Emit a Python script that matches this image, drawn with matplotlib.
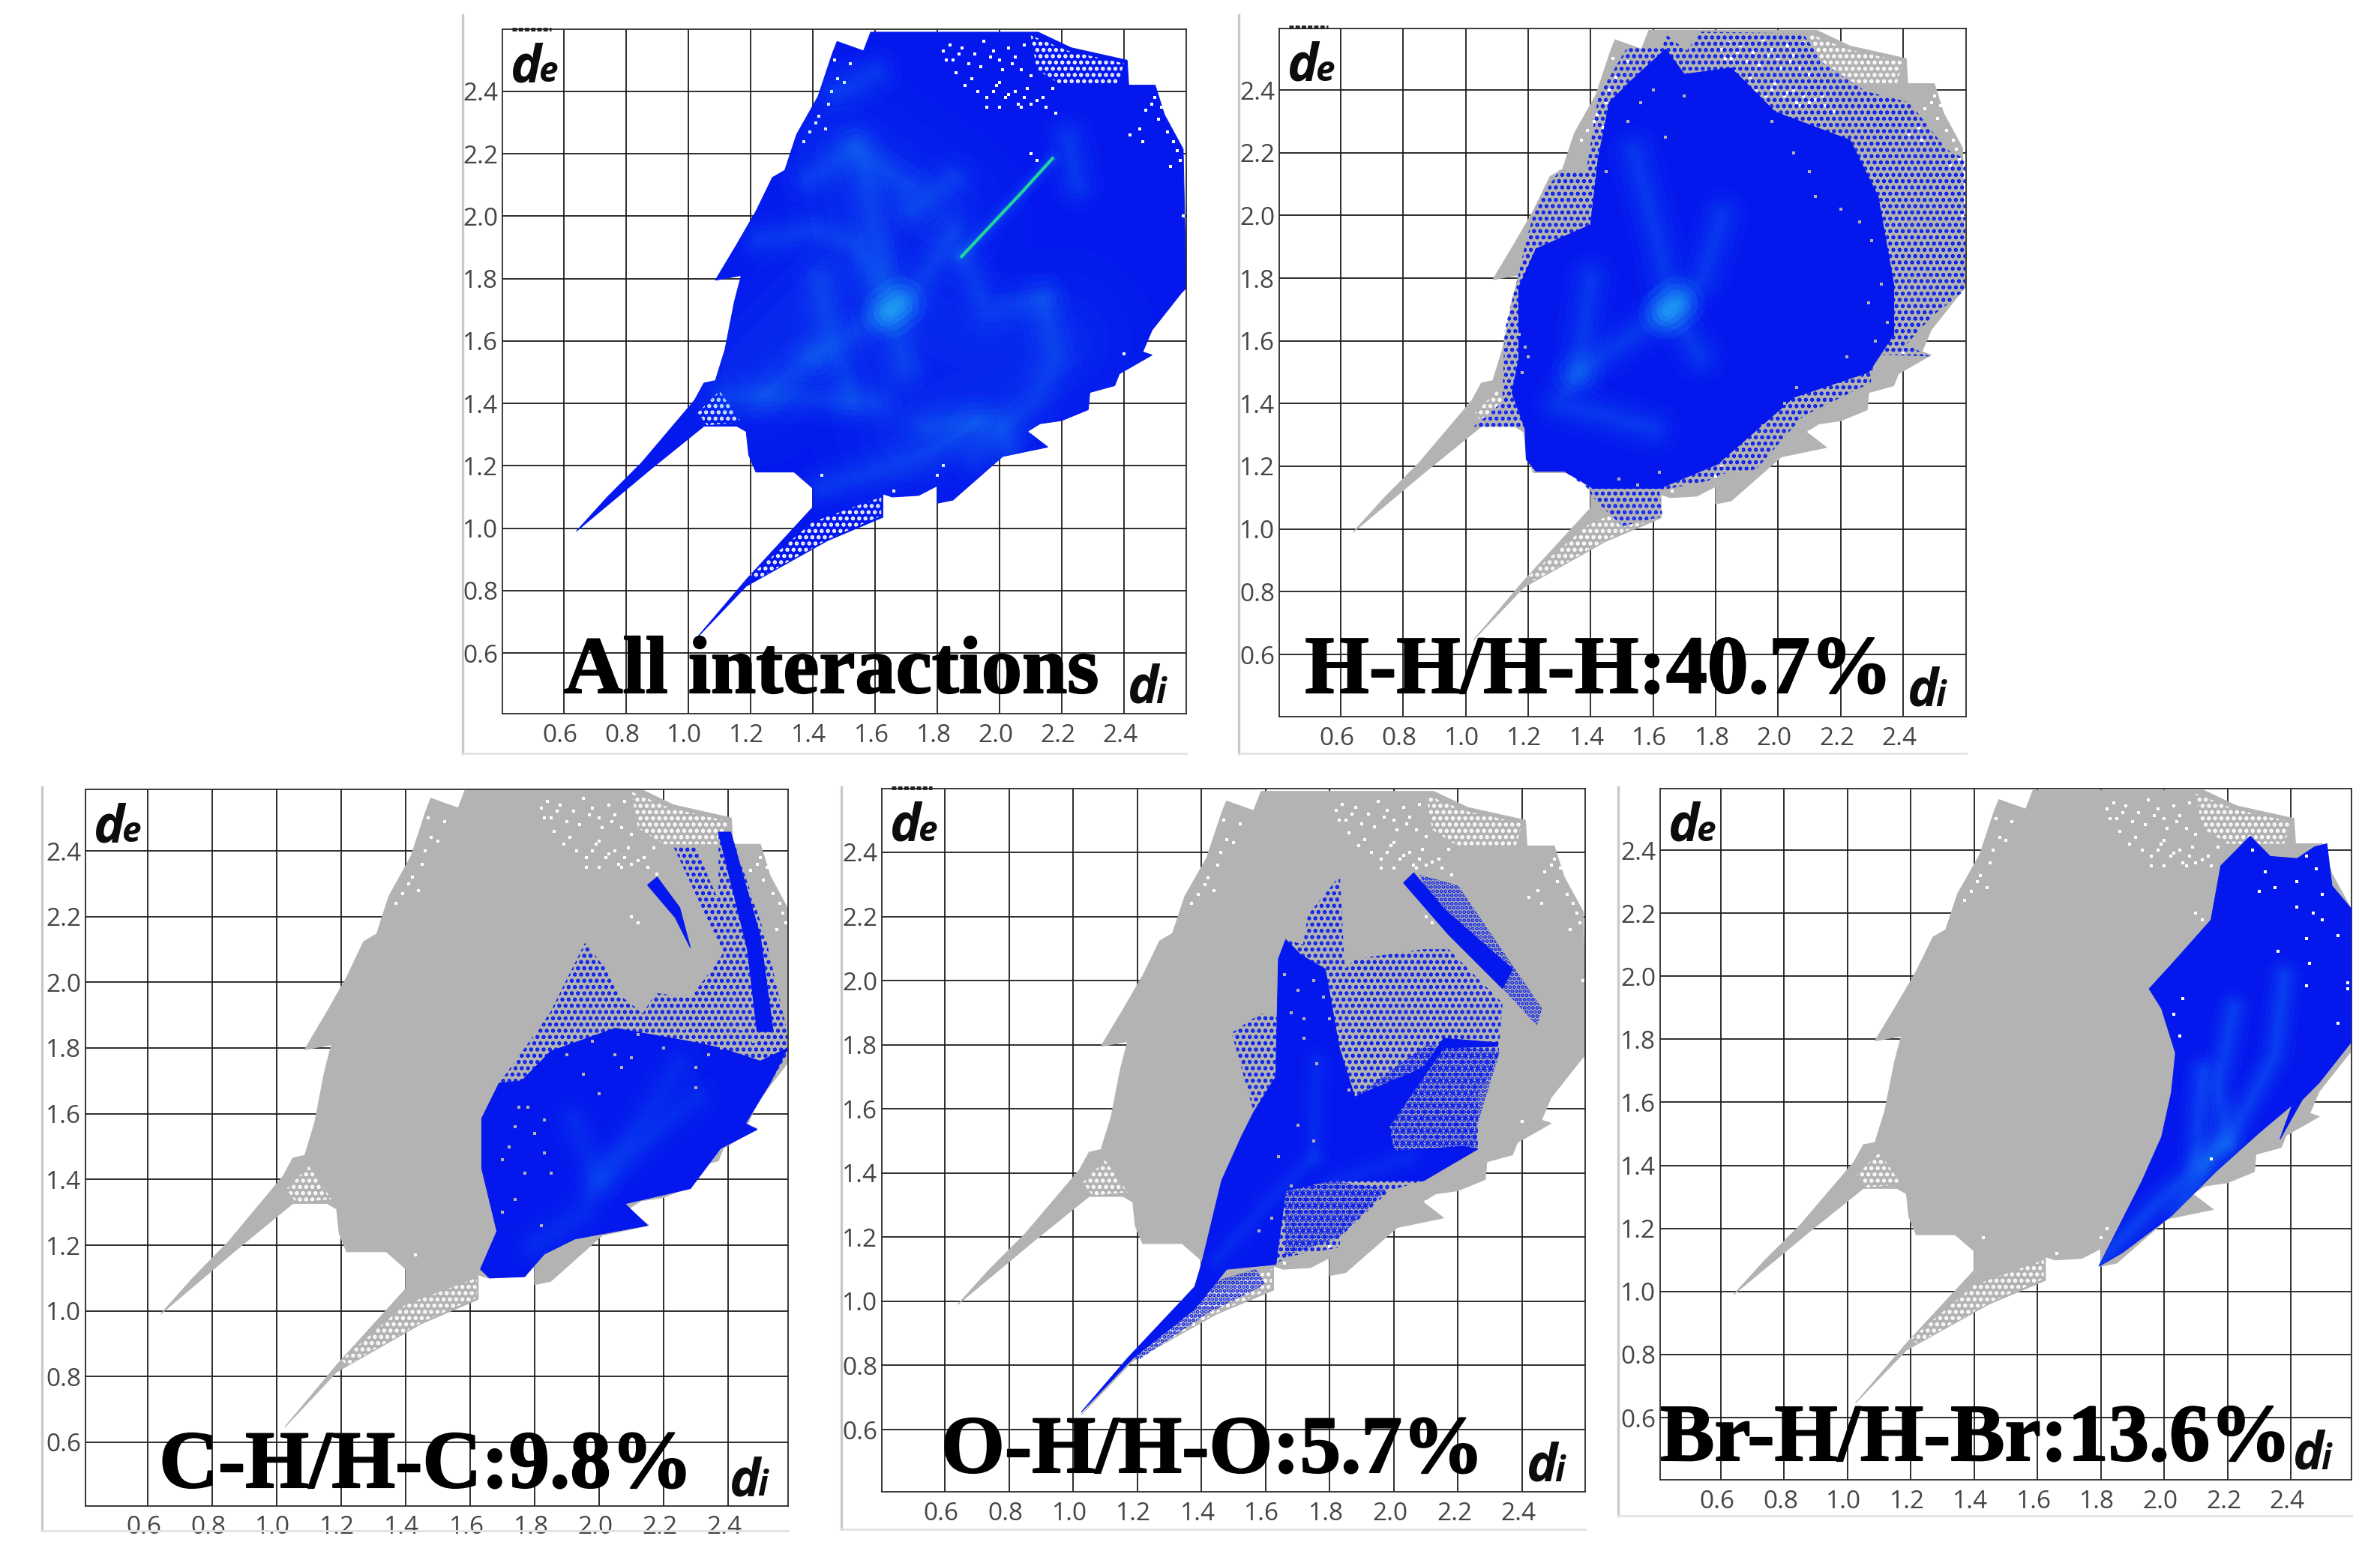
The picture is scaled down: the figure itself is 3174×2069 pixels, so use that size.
import matplotlib
matplotlib.use('Agg')
import matplotlib.pyplot as plt
import matplotlib.patheffects as pe
from matplotlib.patches import Polygon
from matplotlib.lines import Line2D
from matplotlib.transforms import ScaledTranslation

W, H = 3174, 2069
plt.rcParams['hatch.linewidth'] = 2.6

ticks = [0.6, 0.8, 1.0, 1.2, 1.4, 1.6, 1.8, 2.0, 2.2, 2.4]

# whole fingerprint outline, (di, de)
shape_all = [(0.64, 0.99), (0.74, 1.10), (0.85, 1.21), (1.02, 1.41), (1.05, 1.465), (1.087, 1.473), (1.118, 1.573),
             (1.148, 1.726), (1.17, 1.81), (1.087, 1.795), (1.156, 1.91), (1.218, 2.017), (1.27, 2.124), (1.31, 2.147),
             (1.348, 2.262), (1.417, 2.384), (1.463, 2.522), (1.478, 2.56), (1.563, 2.53), (1.586, 2.59),
             (2.124, 2.59), (2.23, 2.54), (2.41, 2.5), (2.415, 2.42), (2.50, 2.42), (2.53, 2.325), (2.59, 2.215),
             (2.60, 1.77), (2.585, 1.755), (2.49, 1.635), (2.46, 1.565), (2.49, 1.555), (2.385, 1.495),
             (2.37, 1.457), (2.29, 1.435), (2.285, 1.38), (2.2, 1.345), (2.13, 1.335), (2.09, 1.31),
             (2.155, 1.26), (2.01, 1.23), (1.85, 1.09), (1.80, 1.08), (1.80, 1.136), (1.74, 1.105),
             (1.655, 1.10), (1.625, 1.11), (1.625, 1.035), (1.447, 0.96), (1.186, 0.814), (1.025, 0.646),
             (1.186, 0.835), (1.40, 1.067), (1.40, 1.128), (1.34, 1.18), (1.217, 1.18), (1.194, 1.235),
             (1.186, 1.31), (1.156, 1.327), (1.05, 1.327), (0.88, 1.19), (0.76, 1.09)]

# speckled bits of the outline
spike_up = [(1.03, 1.37), (1.10, 1.44), (1.17, 1.34), (1.06, 1.33)]
spike_low = [(1.40, 1.02), (1.62, 1.10), (1.62, 1.04), (1.45, 0.965), (1.22, 0.835), (1.20, 0.85)]
top_patch = [(2.10, 2.58), (2.22, 2.53), (2.40, 2.49), (2.38, 2.42), (2.20, 2.42), (2.12, 2.47)]

holes_di = [1.82, 1.85, 1.88, 1.92, 1.95, 1.98, 2.0, 2.03, 2.05, 2.08, 1.86, 1.91, 1.98, 2.02, 2.06, 2.0, 1.96,
            2.09, 2.12, 2.15, 2.18, 2.50, 2.52, 2.47, 2.45, 2.42, 2.54, 2.58, 2.55, 2.10, 2.12, 1.50, 1.47,
            1.45, 1.42, 1.37, 2.59, 2.40, 1.43, 1.66, 1.80, 1.82, 2.10,
            1.84, 1.87, 1.90, 1.94, 1.97, 2.01, 2.04, 2.07, 2.10, 1.89, 1.93, 2.0, 2.05, 2.08, 1.83, 1.96, 1.99,
            2.03, 2.07, 2.14, 2.17, 2.10, 1.48, 1.46, 1.52, 1.44, 2.56, 2.49, 2.51, 2.46, 2.57, 1.39, 1.41]
holes_de = [2.53, 2.50, 2.54, 2.52, 2.56, 2.53, 2.50, 2.54, 2.51, 2.55, 2.46, 2.44, 2.40, 2.38, 2.36, 2.35, 2.35,
            2.41, 2.37, 2.35, 2.33, 2.38, 2.35, 2.34, 2.28, 2.26, 2.27, 2.18, 2.16, 2.20, 2.18, 2.43, 2.50,
            2.36, 2.32, 2.24, 2.00, 1.56, 1.17, 1.12, 1.17, 1.20, 1.31,
            2.55, 2.52, 2.49, 2.48, 2.51, 2.47, 2.49, 2.47, 2.45, 2.42, 2.40, 2.43, 2.40, 2.38, 2.50, 2.38, 2.42,
            2.39, 2.35, 2.38, 2.41, 2.36, 2.44, 2.40, 2.49, 2.28, 2.24, 2.36, 2.31, 2.24, 2.21, 2.27, 2.30]

# H-H
hh_speck = [(1.018, 1.32), (1.117, 1.405), (1.125, 1.634), (1.17, 1.816), (1.194, 1.923), (1.225, 2.03),
            (1.30, 2.144), (1.385, 2.137), (1.424, 2.38), (1.515, 2.533), (1.63, 2.533), (1.64, 2.578),
            (1.707, 2.525), (1.753, 2.586), (2.08, 2.58), (2.143, 2.487), (2.28, 2.396), (2.42, 2.36),
            (2.54, 2.21), (2.60, 2.18), (2.60, 1.763), (2.495, 1.68), (2.41, 1.588), (2.487, 1.55),
            (2.31, 1.557), (2.296, 1.466), (2.08, 1.36), (1.93, 1.19), (1.82, 1.176), (1.775, 1.153),
            (1.62, 1.123), (1.63, 1.04), (1.50, 1.008), (1.408, 1.10), (1.39, 1.13), (1.316, 1.184),
            (1.225, 1.184), (1.194, 1.222), (1.19, 1.32)]
hh_solid = [(1.148, 1.435), (1.17, 1.54), (1.17, 1.77), (1.225, 1.893), (1.40, 1.97), (1.424, 2.18),
            (1.46, 2.36), (1.53, 2.43), (1.64, 2.53), (1.70, 2.45), (1.85, 2.47), (1.99, 2.33), (2.23, 2.24),
            (2.32, 2.06), (2.37, 1.78), (2.37, 1.62), (2.29, 1.50), (2.05, 1.42), (1.913, 1.30), (1.806, 1.207),
            (1.622, 1.13), (1.408, 1.13), (1.316, 1.184), (1.225, 1.184), (1.194, 1.222), (1.19, 1.32)]
hh_specks_di = [1.17, 1.19, 1.18, 1.20, 1.52, 1.56, 1.60, 1.64, 1.70, 1.98, 2.05, 2.10, 2.12, 2.20, 2.26, 2.30,
                2.33, 2.29, 2.35, 2.31, 2.06, 2.02, 1.95, 1.90, 1.88, 1.55, 1.49, 1.45, 1.62, 2.22]
hh_specks_de = [1.62, 1.58, 1.50, 1.55, 2.30, 2.36, 2.40, 2.25, 2.38, 2.30, 2.20, 2.14, 2.06, 2.02, 1.98, 1.92,
                1.78, 1.72, 1.66, 1.60, 1.45, 1.40, 1.33, 1.28, 1.25, 1.14, 1.16, 2.14, 1.18, 1.55]

# C-H
ch_speck = [(1.632, 1.127), (1.683, 1.242), (1.636, 1.433), (1.636, 1.586), (1.69, 1.693), (1.769, 1.80),
            (1.847, 1.906), (1.956, 2.12), (2.03, 2.03), (2.065, 1.96), (2.136, 1.906), (2.175, 1.968),
            (2.283, 1.952), (2.376, 2.075), (2.384, 2.09), (2.228, 2.418), (2.30, 2.41), (2.37, 2.25),
            (2.37, 2.457), (2.408, 2.457), (2.517, 2.136), (2.548, 1.998), (2.585, 1.845), (2.585, 1.784),
            (2.53, 1.693), (2.454, 1.57), (2.49, 1.552), (2.376, 1.494), (2.283, 1.372), (2.08, 1.326),
            (2.15, 1.26), (1.925, 1.219), (1.83, 1.173), (1.769, 1.104), (1.66, 1.10)]
ch_solid = [(1.632, 1.127), (1.683, 1.242), (1.636, 1.433), (1.636, 1.586), (1.69, 1.693), (1.76, 1.70),
            (1.85, 1.79), (2.05, 1.86), (2.28, 1.82), (2.376, 1.80), (2.50, 1.76), (2.585, 1.80), (2.53, 1.693),
            (2.454, 1.57), (2.49, 1.552), (2.376, 1.494), (2.283, 1.372), (2.08, 1.326), (2.15, 1.26),
            (1.925, 1.219), (1.83, 1.173), (1.769, 1.104), (1.66, 1.10)]
ch_streak1 = [(2.37, 2.457), (2.408, 2.457), (2.50, 2.14), (2.54, 1.85), (2.49, 1.85), (2.46, 2.10)]
ch_streak2 = [(2.15, 2.296), (2.18, 2.32), (2.25, 2.227), (2.283, 2.105), (2.236, 2.197)]
ch_specks_di = [1.70, 1.72, 1.74, 1.75, 1.80, 1.83, 1.85, 1.83, 2.05, 2.07, 2.10, 2.30, 2.34, 1.95, 2.00, 2.30,
                1.78, 1.77, 1.70, 1.74, 1.82, 1.90, 1.98, 2.12, 2.20, 2.26, 2.40, 2.44, 2.38, 2.48]
ch_specks_de = [1.46, 1.50, 1.56, 1.62, 1.54, 1.48, 1.42, 1.58, 1.78, 1.74, 1.77, 1.74, 1.78, 1.72, 1.66, 1.68,
                1.62, 1.42, 1.30, 1.34, 1.26, 1.78, 1.82, 1.84, 1.80, 1.86, 1.88, 1.86, 1.80, 1.82]

# O-H
oh_speck = [(1.494, 1.837), (1.586, 1.898), (1.64, 1.89), (1.64, 2.067), (1.663, 2.128), (1.717, 2.113),
            (1.732, 2.205), (1.832, 2.328), (1.847, 2.036), (1.878, 2.067), (2.093, 2.098), (2.17, 2.098),
            (2.339, 1.93), (2.324, 1.744), (2.262, 1.652), (2.262, 1.545), (2.262, 1.475), (2.093, 1.376),
            (1.986, 1.345), (1.832, 1.2), (1.832, 1.168), (1.663, 1.138), (1.632, 1.115), (1.479, 1.10),
            (1.563, 1.59)]
oh_dense = [(1.878, 1.637), (2.10, 1.80), (2.33, 1.78), (2.26, 1.55), (2.26, 1.475), (2.0, 1.42), (1.90, 1.55)]
oh_dense2 = [(1.66, 1.345), (1.80, 1.376), (1.98, 1.35), (1.83, 1.20), (1.66, 1.14)]
oh_solid = [(1.025, 0.654), (1.17, 0.823), (1.379, 1.045), (1.40, 1.115), (1.463, 1.376), (1.525, 1.514),
            (1.563, 1.59), (1.632, 1.70), (1.64, 2.067), (1.663, 2.128), (1.71, 2.08), (1.786, 2.036),
            (1.83, 1.79), (1.878, 1.637), (2.093, 1.729), (2.155, 1.82), (2.324, 1.806), (2.324, 1.795),
            (2.155, 1.79), (1.985, 1.545), (2.0, 1.468), (2.216, 1.483), (2.262, 1.475), (2.093, 1.376),
            (1.80, 1.376), (1.663, 1.345), (1.632, 1.115), (1.479, 1.10), (1.379, 0.976), (1.187, 0.823)]
oh_spike = [(1.379, 1.045), (1.57, 1.10), (1.60, 1.053), (1.417, 0.961), (1.202, 0.815), (1.187, 0.83)]
oh_streak = [(2.03, 2.305), (2.062, 2.336), (2.16, 2.22), (2.37, 2.036), (2.339, 1.975), (2.17, 2.144)]
oh_streak_speck = [(2.08, 2.33), (2.2, 2.297), (2.462, 1.913), (2.446, 1.86), (2.339, 1.975), (2.17, 2.144)]
oh_specks_di = [1.66, 1.70, 1.68, 1.72, 1.75, 1.78, 1.80, 1.72, 1.76, 1.83, 1.86, 1.70, 1.64, 1.68, 1.75, 1.62, 1.58]
oh_specks_de = [2.02, 1.97, 1.90, 1.88, 2.00, 1.95, 1.88, 1.82, 1.74, 1.85, 1.66, 1.55, 1.45, 1.36, 1.50, 1.26, 1.22]

# Br-H
br_solid = [(1.794, 1.08), (1.93, 1.35), (1.992, 1.49), (2.023, 1.631), (2.036, 1.756), (1.992, 1.897),
            (1.953, 1.96), (2.023, 2.037), (2.148, 2.178), (2.179, 2.35), (2.272, 2.444), (2.335, 2.38),
            (2.42, 2.373), (2.475, 2.41), (2.514, 2.42), (2.53, 2.287), (2.594, 2.21), (2.594, 1.795),
            (2.49, 1.6625), (2.436, 1.608), (2.366, 1.483), (2.405, 1.592), (2.303, 1.506), (2.163, 1.38),
            (2.023, 1.24), (1.868, 1.123)]
br_holes_di = [2.28, 2.32, 2.35, 2.30, 2.42, 2.45, 2.48, 2.50, 2.47, 2.45, 2.55, 2.58, 2.45, 2.36, 2.06, 2.03,
               2.05, 2.19, 2.55, 2.58, 2.46, 2.42, 2.50, 2.15]
br_holes_de = [2.40, 2.33, 2.28, 2.27, 2.30, 2.38, 2.34, 2.26, 2.20, 2.12, 2.13, 1.98, 1.97, 2.08, 1.93, 1.88,
               1.81, 1.31, 1.85, 1.96, 2.04, 2.22, 2.18, 1.42]

# bright ridges
ridges_all = [[(1.54, 2.22), (1.57, 2.13), (1.62, 1.90), (1.655, 1.70)],
              [(1.655, 1.70), (1.73, 1.76), (1.85, 1.95)],
              [(1.233, 1.925), (1.40, 1.955), (1.54, 1.91), (1.655, 1.70)],
              [(1.39, 2.12), (1.54, 2.22), (1.70, 2.10)],
              [(1.40, 1.55), (1.655, 1.70), (1.70, 1.52)],
              [(2.14, 1.73), (2.18, 1.54), (2.12, 1.42), (1.92, 1.235)],
              [(1.76, 1.33), (2.0, 1.34), (2.05, 1.2)],
              [(1.43, 1.13), (1.77, 1.235), (1.92, 1.34)],
              [(1.25, 1.43), (1.40, 1.55)],
              [(1.72, 2.02), (1.85, 2.12)],
              [(1.12, 1.42), (1.35, 1.42), (1.60, 1.40)],
              [(1.42, 1.80), (1.46, 1.60), (1.52, 1.42)],
              [(1.88, 1.87), (1.96, 1.70), (2.14, 1.73)],
              [(2.22, 2.25), (2.25, 2.10)],
              [(1.48, 2.40), (1.60, 2.46)]]
streak_all = [(1.878, 1.871), (2.07, 2.075), (2.17, 2.185)]
ridges_hh = [[(1.54, 2.2), (1.62, 1.9), (1.655, 1.70)],
             [(1.655, 1.70), (1.76, 1.80), (1.82, 2.00)],
             [(1.36, 1.50), (1.655, 1.70)],
             [(1.36, 1.50), (1.30, 1.40), (1.60, 1.32)],
             [(1.40, 1.80), (1.36, 1.50)],
             [(1.655, 1.70), (1.75, 1.55)]]
ridges_ch = [[(1.80, 1.20), (1.95, 1.30), (2.0, 1.40), (1.92, 1.58)],
             [(2.0, 1.40), (2.15, 1.60), (2.25, 1.75)],
             [(2.0, 1.40), (2.30, 1.65)]]
ridges_oh = [[(1.45, 1.13), (1.60, 1.30), (1.75, 1.45)],
             [(1.75, 1.45), (1.76, 1.75)],
             [(1.80, 1.37), (2.05, 1.45)]]
ridges_br = [[(1.80, 1.10), (2.0, 1.30), (2.20, 1.47), (2.17, 1.65), (2.22, 1.90)],
             [(2.20, 1.47), (2.35, 1.75), (2.38, 2.0)],
             [(2.05, 1.25), (2.17, 1.47)],
             [(2.10, 1.42), (2.12, 1.70)]]

BLUE = '#0418ee'
GRAY = '#b3b3b3'
CYAN = '#22aaff'


def blob(ax, pts, clip, color=CYAN, big=1.0, strength=1.0):
    xs = [p[0] for p in pts]
    ys = [p[1] for p in pts]
    for lw, a in [(52, .03), (38, .04), (26, .05), (16, .05), (8, .04)]:
        l, = ax.plot(xs, ys, color=color, lw=lw * big, alpha=a * strength, solid_capstyle='round', zorder=5)
        l.set_clip_path(clip)


def poly(ax, pts, color=BLUE, z=3):
    p = Polygon(pts, closed=True, fc=color, ec=color, lw=0.8, zorder=z)
    ax.add_patch(p)
    return p


def speck(ax, pts, color=BLUE, hatch='..', z=2.5):
    p = Polygon(pts, closed=True, fill=False, ec=color, lw=0, hatch=hatch, zorder=z)
    ax.add_patch(p)
    return p


def base_panel(left, right, top, bottom, grid_px, label, lab_x, lab_y, lab_size, gray=True):
    ax = fig.add_axes([left / W, 1 - bottom / H, (right - left) / W, (bottom - top) / H])
    # limits come from where the 0.6 and 2.4 grid lines sit in the picture
    gx0, gx1, gy0, gy1 = grid_px
    sx = 1.8 / (gx1 - gx0)
    sy = 1.8 / (gy0 - gy1)
    ax.set_xlim(0.6 - (gx0 - left) * sx, 0.6 + (right - gx0) * sx)
    ax.set_ylim(0.6 - (bottom - gy0) * sy, 0.6 + (gy0 - top) * sy)
    ax.set_xticks(ticks)
    ax.set_yticks(ticks)
    ax.set_xticklabels(['%.1f' % t for t in ticks])
    ax.set_yticklabels(['%.1f' % t for t in ticks])
    ax.tick_params(length=0, labelsize=24, labelcolor='#454545', pad=9)
    ax.tick_params(axis='y', pad=4)
    for t in ax.get_xticklabels():
        t.set_fontfamily('Open Sans')
        t.set_transform(t.get_transform() + ScaledTranslation(-0.05, 0, fig.dpi_scale_trans))
    for t in ax.get_yticklabels():
        t.set_fontfamily('Open Sans')
    ax.grid(True, color='#1c1c1c', lw=1.3)
    ax.set_axisbelow(True)
    for s in ax.spines.values():
        s.set_color('#2a2a2a')
        s.set_linewidth(1.3)
    c = BLUE if not gray else GRAY
    sil = poly(ax, shape_all, color=c, z=2)
    speck(ax, spike_up, color='white', hatch='..', z=2.2)
    speck(ax, spike_low, color='white', hatch='..', z=2.2)
    speck(ax, top_patch, color='white', hatch='..', z=2.2)
    ax.scatter(holes_di, holes_de, marker='s', s=11, c='white', lw=0, zorder=2.3)
    # d_e, d_i corner labels
    for txt, x, y, size in [('d', left + 11, H - top - 70, 50), ('e', left + 49, H - top - 70, 33),
                            ('d', right - 78, H - bottom + 14, 50), ('i', right - 41, H - bottom + 14, 33)]:
        ax.text(x, y, txt, family='Open Sans', style='italic', weight='bold', fontsize=size,
                color='#0c0c0c', transform=None, zorder=9)
    fig.text(lab_x / W, 1 - lab_y / H, label, family='Liberation Serif', weight='bold', fontsize=lab_size,
             ha='center', va='baseline', color='black', zorder=10,
             path_effects=[pe.withStroke(linewidth=1.5, foreground='black')])
    return ax, sil


def frame(x, y0, y1, x1=None):
    fig.add_artist(Line2D([x / W, x / W], [1 - y0 / H, 1 - y1 / H], color='#c9c9c9', lw=2.4))
    fig.add_artist(Line2D([x / W, (x1 or x) / W], [1 - y1 / H, 1 - y1 / H], color='#e2e2e2', lw=2))


def residue(ax):
    ax.plot([0.434, 0.56], [2.6, 2.6], color='#222222', lw=3.5, ls=(0, (1.2, 0.5)), clip_on=False, zorder=7)


fig = plt.figure(figsize=(W / 100, H / 100), dpi=100, facecolor='white')

frame(617, 20, 1005, 1582)
frame(1652, 20, 1005, 2622)
frame(56, 1050, 2042, 1051)
frame(1122, 1050, 2040, 2114)
frame(2158, 1050, 2022, 3136)

# all interactions
ax, sil = base_panel(670, 1582, 39, 952, (752, 1499, 871, 122), 'All interactions', 1109, 924, 78, gray=False)
blob(ax, [(1.2, 1.5), (1.5, 1.8), (1.9, 1.6), (2.2, 1.6), (1.7, 1.3), (1.5, 2.2), (1.8, 2.0)], sil,
     color='#1a70ff', big=3.5, strength=1.2)
for r in ridges_all:
    blob(ax, r, sil, strength=1.1)
blob(ax, [(1.64, 1.69), (1.68, 1.72)], sil, color='#35dcff', big=1.0, strength=2.2)
blob(ax, streak_all, sil, color='#22c0ff', big=0.4)
ax.plot([p[0] for p in streak_all], [p[1] for p in streak_all], color='#1ed6a0', lw=3, zorder=6)
residue(ax)

# H-H
ax, sil = base_panel(1706, 2622, 38, 956, (1788, 2538, 873, 120), 'H-H/H-H:40.7%', 2132, 924, 79)
speck(ax, hh_speck)
core = poly(ax, hh_solid)
for r in ridges_hh:
    blob(ax, r, core, strength=1.1)
blob(ax, [(1.64, 1.69), (1.68, 1.72)], core, color='#35dcff', big=1.0, strength=2.2)
ax.scatter(hh_specks_di, hh_specks_de, marker='s', s=11, c=GRAY, lw=0, zorder=6)
residue(ax)

# C-H
ax, sil = base_panel(114, 1051, 1053, 2009, (197, 971, 1924, 1135), 'C-H/H-C:9.8%', 568, 1984, 78.5)
speck(ax, ch_speck)
core = poly(ax, ch_solid)
poly(ax, ch_streak1)
poly(ax, ch_streak2)
for r in ridges_ch:
    blob(ax, r, core, color='#1a80ff', big=0.9)
ax.scatter(ch_specks_di, ch_specks_de, marker='s', s=11, c=GRAY, lw=0, zorder=6)

# O-H
ax, sil = base_panel(1176, 2114, 1052, 1990, (1260, 2030, 1907, 1137), 'O-H/H-O:5.7%', 1617, 1964, 78.5)
speck(ax, oh_speck)
speck(ax, oh_dense, hatch='...')
speck(ax, oh_dense2, hatch='...')
speck(ax, oh_spike, hatch='...')
speck(ax, oh_streak_speck, hatch='...')
core = poly(ax, oh_solid)
poly(ax, oh_streak)
for r in ridges_oh:
    blob(ax, r, core, color='#1a70ff', big=0.6)
ax.scatter(oh_specks_di, oh_specks_de, marker='s', s=11, c=GRAY, lw=0, zorder=6)
residue(ax)

# Br-H
ax, sil = base_panel(2214, 3136, 1052, 1974, (2295, 3055, 1891, 1134), 'Br-H/H-Br:13.6%', 2635, 1948, 78)
core = poly(ax, br_solid)
for r in ridges_br:
    blob(ax, r, core, big=0.7, strength=1.4)
ax.scatter(br_holes_di, br_holes_de, marker='s', s=11, c='white', lw=0, zorder=6)

fig.savefig('out.png', dpi=100)
